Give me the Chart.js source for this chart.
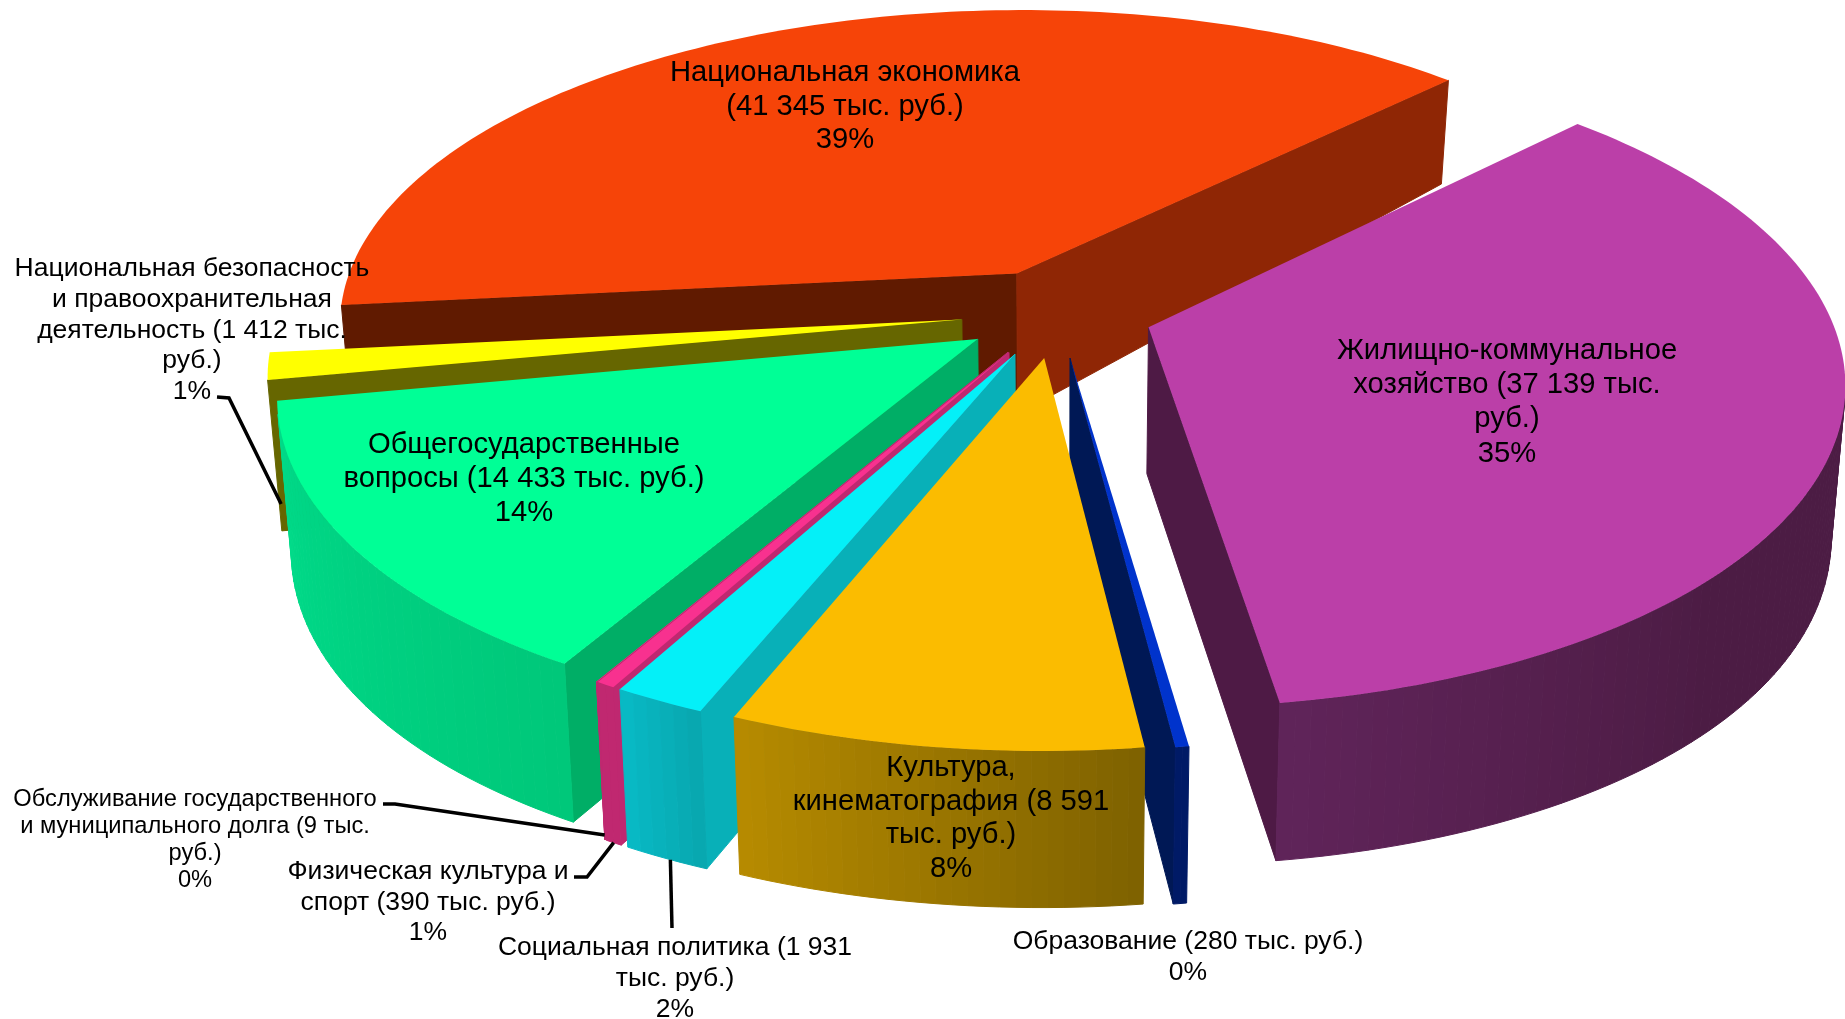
<!DOCTYPE html>
<html>
<head>
<meta charset="utf-8">
<title>Расходы бюджета</title>
<script src="https://cdn.jsdelivr.net/npm/chart.js@4/dist/chart.umd.min.js"></script>
<style>
  html, body { margin: 0; padding: 0; background: #fff; overflow: hidden; }
  canvas { display: block; }
</style>
</head>
<body>
<canvas id="myChart" width="1845" height="1019"></canvas>
<script>
// data, clockwise from the right-hand slice
var categories = ['Жилищно-коммунальное хозяйство', 'Образование', 'Культура, кинематография',
  'Социальная политика', 'Физическая культура и спорт', 'Обслуживание государственного и муниципального долга',
  'Общегосударственные вопросы', 'Национальная безопасность и правоохранительная деятельность', 'Национальная экономика'];
var values = [37139, 280, 8591, 1931, 390, 9, 14433, 1412, 41345];

var labelLines = [
  ['Жилищно-коммунальное', 'хозяйство (37 139 тыс.', 'руб.)', '35%'],
  ['Образование (280 тыс. руб.)', '0%'],
  ['Культура,', 'кинематография (8 591', 'тыс. руб.)', '8%'],
  ['Социальная политика (1 931', 'тыс. руб.)', '2%'],
  ['Физическая культура и', 'спорт (390 тыс. руб.)', '1%'],
  ['Обслуживание государственного', 'и муниципального долга (9 тыс.', 'руб.)', '0%'],
  ['Общегосударственные', 'вопросы (14 433 тыс. руб.)', '14%'],
  ['Национальная безопасность', 'и правоохранительная', 'деятельность (1 412 тыс.', 'руб.)', '1%'],
  ['Национальная экономика', '(41 345 тыс. руб.)', '39%']
];

// colours
var topColors = ['#BB3FA8', '#0033CC', '#FBBC00', '#04F0F8', '#F8318F', '#F8318F', '#00FF96', '#FFFF00', '#F64408'];
var startWall = ['#4E1A45', '#001A5C', '#7F6200', '#08B0B8', '#BF2870', '#BF2870', '#00AE66', '#666600', '#601A00'];
var endWall = ['#4E1A45', '#001855', '#B88C00', '#08B0B8', '#BF2870', '#BF2870', '#00AE66', '#666600', '#8F2605'];
var rimFrom = ['#4C1C44', '#001A66', '#7F6200', '#08A8B0', '#C02870', '#C02870', '#00C87A', '#666600', '#601A00'];
var rimTo = ['#60245A', '#001A66', '#B88C00', '#08BCC8', '#C02870', '#C02870', '#00DC8A', '#666600', '#601A00'];
// part of the rim that keeps the first colour
var rimHold = [0.7, 0, 0, 0, 0, 0, 0, 0, 0];

// back to front
var paintOrder = [8, 7, 6, 5, 4, 3, 1, 2, 0];

// label placement: centre x, y of first line, line step, font size
var labelX = [1507, 1188, 951, 675, 428, 195, 524, 192, 845];
var labelY = [351, 942, 768, 948, 872, 799, 445, 269, 73];
var labelStep = [34.2, 31, 33.6, 31, 30.5, 27, 34.2, 30.6, 33.6];
var labelSize = [29.2, 26.5, 29.2, 26.5, 26.5, 23.7, 29.2, 26.5, 29.2];

// leader lines: slice index, start, elbow, place along the slice, how far down the rim it ends
var leaders = [
  { slice: 7, from: [217, 397], elbow: [229, 398], at: 0.5, z: 0.92 },
  { slice: 5, from: [383, 804], elbow: [395, 804], at: 0.5, z: 0.97 },
  { slice: 4, from: [574, 877], elbow: [587, 877], at: 0.5, z: 1 },
  { slice: 3, from: [672, 928], elbow: [672, 928], at: 0.45, z: 1 }
];

// view of the tilted disc
var CX = 1057, CY = 313, F = 681, G = 316, K = 0.156;
var DEPTH = 145, DEPTH_Y = -33, DEPTH_YY = -20, SHRINK = 0.018;

function project(X, Y, z) {
  var w = 1 + K * Y;
  return {
    x: CX + F * X / w * (1 - SHRINK * z),
    y: CY - G * Y / w + z * (DEPTH + DEPTH_Y * Y + DEPTH_YY * Y * Y)
  };
}

function lerpColor(a, b, t) {
  var out = '#';
  for (var i = 1; i < 7; i += 2) {
    var v = Math.round(parseInt(a.substr(i, 2), 16) * (1 - t) + parseInt(b.substr(i, 2), 16) * t);
    out += (v < 16 ? '0' : '') + v.toString(16);
  }
  return out;
}

// world position of a slice point, moved out along its middle angle
function slicePoint(arc, angle, r) {
  var p = arc.getProps(['startAngle', 'endAngle', 'outerRadius']);
  var mid = (p.startAngle + p.endAngle) / 2;
  var e = arc.options.offset / p.outerRadius;
  return {
    X: Math.cos(mid) * e + Math.cos(angle) * r,
    Y: -Math.sin(mid) * e - Math.sin(angle) * r
  };
}

function face(ctx, a, b, color) {
  var pa = project(a.X, a.Y, 0), pb = project(b.X, b.Y, 0);
  var qb = project(b.X, b.Y, 1), qa = project(a.X, a.Y, 1);
  var pts = [pa, pb, qb, qa];
  var area = 0;
  for (var i = 0; i < 4; i++) {
    var n = pts[(i + 1) % 4];
    area += pts[i].x * n.y - n.x * pts[i].y;
  }
  if (area >= 0) return; // facing away
  ctx.beginPath();
  ctx.moveTo(pa.x, pa.y);
  ctx.lineTo(pb.x, pb.y);
  ctx.lineTo(qb.x, qb.y);
  ctx.lineTo(qa.x, qa.y);
  ctx.closePath();
  ctx.fillStyle = color;
  ctx.strokeStyle = color;
  ctx.lineWidth = 1;
  ctx.fill();
  ctx.stroke();
}

function drawSlice(ctx, arc, i) {
  var p = arc.getProps(['startAngle', 'endAngle', 'outerRadius']);
  var apex = slicePoint(arc, p.startAngle, 0);
  var steps = Math.max(2, Math.ceil((p.endAngle - p.startAngle) / 0.02));
  var rim = [];
  for (var s = 0; s <= steps; s++) {
    rim.push(slicePoint(arc, p.startAngle + (p.endAngle - p.startAngle) * s / steps, 1));
  }
  // side walls
  face(ctx, apex, rim[0], startWall[i]);
  face(ctx, rim[steps], apex, endWall[i]);
  for (s = 0; s < steps; s++) {
    var t = Math.max(0, (s / steps - rimHold[i]) / (1 - rimHold[i]));
    face(ctx, rim[s], rim[s + 1], lerpColor(rimFrom[i], rimTo[i], t));
  }
  // top
  ctx.beginPath();
  var a = project(apex.X, apex.Y, 0);
  ctx.moveTo(a.x, a.y);
  rim.forEach(function (pt) {
    var q = project(pt.X, pt.Y, 0);
    ctx.lineTo(q.x, q.y);
  });
  ctx.closePath();
  ctx.fillStyle = topColors[i];
  ctx.fill();
}

var pie3d = {
  id: 'pie3d',
  beforeDatasetDraw: function () {
    return false;
  },
  afterDatasetsDraw: function (chart) {
    var ctx = chart.ctx;
    var arcs = chart.getDatasetMeta(0).data;
    ctx.save();
    paintOrder.forEach(function (i) {
      drawSlice(ctx, arcs[i], i);
    });

    // leader lines
    ctx.strokeStyle = '#000';
    ctx.lineWidth = 3.5;
    leaders.forEach(function (l) {
      var arc = arcs[l.slice];
      var p = arc.getProps(['startAngle', 'endAngle']);
      var pt = slicePoint(arc, p.startAngle + (p.endAngle - p.startAngle) * l.at, 1);
      var end = project(pt.X, pt.Y, l.z);
      ctx.beginPath();
      ctx.moveTo(l.from[0], l.from[1]);
      ctx.lineTo(l.elbow[0], l.elbow[1]);
      ctx.lineTo(end.x, end.y);
      ctx.stroke();
    });

    // labels
    ctx.fillStyle = '#000';
    ctx.textAlign = 'center';
    ctx.textBaseline = 'middle';
    labelLines.forEach(function (lines, i) {
      ctx.font = labelSize[i] + 'px "Liberation Sans", Arial, sans-serif';
      lines.forEach(function (line, j) {
        ctx.fillText(line, labelX[i], labelY[i] + j * labelStep[i]);
      });
    });
    ctx.restore();
  }
};

var ctx = document.getElementById('myChart').getContext('2d');
var chart = new Chart(ctx, {
  type: 'pie',
  data: {
    labels: categories,
    datasets: [{
      data: values,
      backgroundColor: topColors,
      borderWidth: 0,
      offset: 67
    }]
  },
  options: {
    responsive: false,
    animation: false,
    rotation: 45.2,
    layout: { padding: 0 },
    plugins: { legend: { display: false }, tooltip: { enabled: false } }
  },
  plugins: [pie3d]
});
</script>
</body>
</html>
